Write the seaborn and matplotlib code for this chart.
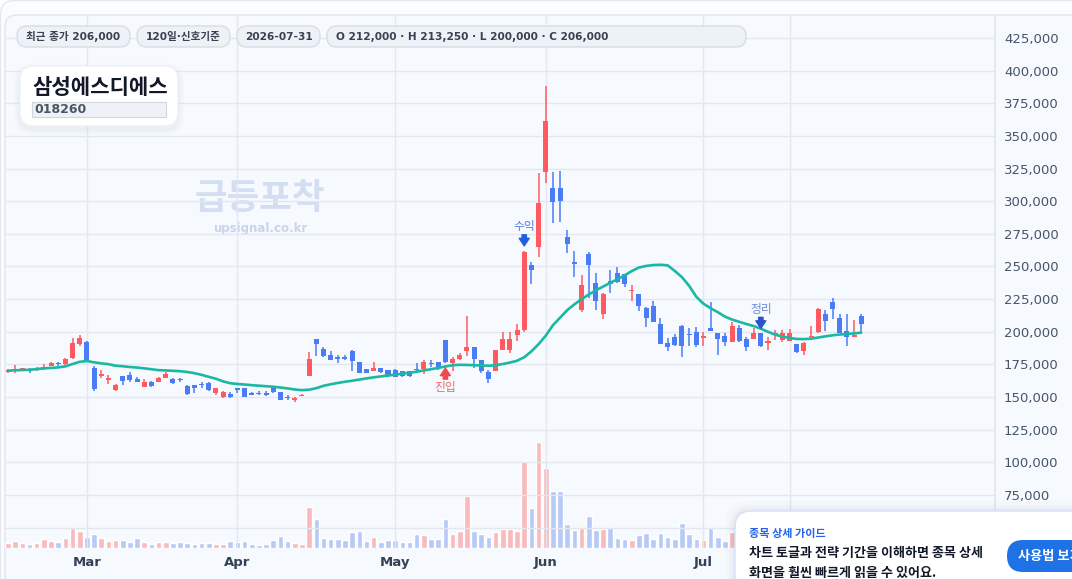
import matplotlib
matplotlib.use("Agg")
import matplotlib.pyplot as plt
import matplotlib.transforms as mtransforms
from matplotlib.patches import FancyBboxPatch, Rectangle
import numpy as np
import pandas as pd
import seaborn as sns

W, H = 1072, 579

# chart data (one value per trading day)
ticker_name = "삼성에스디에스"
ticker_code = "018260"
last_date = "2026-07-31"
window_label = "120일·신호기준"

opens = [
    169100, 170700, 171200, 171400, 171200, 171400, 174000, 175500, 175000, 179900,
    190600, 191800, 171900, 166300, 163000, 155600, 166100, 166800, 163800, 157900,
    161800, 161800, 164800, 163500, 163300, 158200, 159200, 159500, 160700, 153300,
    150300, 152300, 156600, 156600, 153100, 153300, 153300, 156600, 154100, 149800,
    147500, 151000, 166300, 194400, 186700, 182400, 180600, 180800, 184900, 177000,
    171600, 170300, 172100, 170900, 170900, 170100, 169800, 171400, 171400, 176000,
    176500, 193400, 175900, 179000, 184900, 188700, 178500, 169300, 169600, 185700,
    186200, 197700, 201500, 251000, 265100, 322600, 310300, 310000, 272800, 253400,
    216600, 259500, 237300, 213600, 238900, 245200, 244200, 231000, 228900, 218400,
    219700, 205900, 191100, 195700, 204400, 198300, 200000, 194900, 203100, 198800,
    196900, 192400, 202600, 194400, 194200, 198800, 191100, 197500, 193700, 193100,
    190600, 185500, 196200, 200000, 213600, 223000, 210300, 200800, 196200, 212000,
]
highs = [
    171400, 174500, 172500, 171900, 173000, 175500, 177000, 176800, 179900, 194900,
    197400, 192600, 173500, 170400, 166800, 160000, 166100, 169400, 165300, 163800,
    162500, 165100, 168900, 164800, 164800, 159200, 159200, 161800, 161200, 156600,
    154900, 153800, 157200, 157200, 154100, 154900, 154400, 158700, 154100, 151800,
    150300, 152000, 184700, 194400, 188700, 185400, 182400, 182400, 186200, 177000,
    171600, 177000, 172600, 170900, 171400, 170100, 170300, 175900, 178000, 178500,
    176500, 193900, 180600, 183600, 211800, 188700, 178500, 170900, 186200, 199500,
    199500, 206100, 262000, 253600, 321400, 388200, 322600, 323000, 277900, 261800,
    243500, 261300, 245000, 229500, 247300, 249400, 244200, 235800, 228900, 219200,
    223800, 210500, 195000, 198000, 205200, 202600, 203400, 200000, 223000, 198800,
    198800, 207700, 205200, 195700, 202600, 198800, 196200, 201300, 201300, 201900,
    190600, 192400, 204400, 218000, 216600, 225600, 213600, 213600, 209000, 213250,
]
lows = [
    168600, 168400, 170000, 168400, 169900, 170900, 173500, 173500, 174500, 179100,
    188800, 176500, 154900, 164300, 160000, 154900, 159200, 161200, 161200, 157400,
    157900, 161200, 164300, 160200, 161800, 151500, 152800, 157200, 154600, 151800,
    149500, 149500, 152800, 149800, 151500, 151300, 150500, 153100, 147900, 147500,
    146200, 150800, 166300, 181600, 180600, 178500, 176000, 178500, 169600, 168800,
    168800, 169800, 168600, 165700, 165200, 165700, 165700, 168800, 167800, 173400,
    170900, 176000, 169800, 178500, 181100, 172100, 168300, 161100, 169600, 185700,
    183600, 192600, 200000, 236600, 257500, 313700, 283500, 284000, 260000, 241700,
    215500, 225800, 216600, 210000, 229900, 237600, 234500, 223800, 216100, 203900,
    207700, 190600, 185500, 189000, 180900, 189000, 188000, 189000, 200800, 182200,
    189000, 192400, 192400, 185500, 194200, 188500, 186000, 193700, 192400, 193100,
    183500, 182200, 194900, 199300, 200800, 209500, 198800, 189000, 196200, 200000,
]
closes = [
    170400, 171400, 172200, 170200, 171900, 172700, 176300, 175000, 179100, 191300,
    194900, 177300, 156100, 167900, 164300, 159200, 162500, 163000, 161800, 161800,
    158400, 164300, 167900, 160700, 162800, 152300, 157200, 158900, 155600, 156600,
    154100, 150300, 155600, 150300, 151800, 152300, 151300, 153800, 147900, 149000,
    149500, 151500, 179100, 190600, 181800, 178500, 179500, 179500, 177800, 168800,
    168800, 172400, 169100, 166200, 165700, 166200, 166200, 170600, 176500, 175200,
    172100, 177200, 179000, 182400, 188200, 179000, 170300, 164200, 185700, 194400,
    194400, 201500, 261300, 247500, 298400, 361700, 299600, 300000, 267200, 251700,
    235800, 251100, 223800, 228900, 236300, 238100, 236600, 231700, 219700, 210700,
    207700, 190600, 188500, 189800, 189000, 197700, 189800, 196700, 200800, 194400,
    192400, 204400, 193100, 188000, 198800, 189000, 192900, 198800, 198800, 199300,
    184700, 191600, 197000, 217200, 208400, 217200, 199300, 196200, 197500, 206000,
]
# volume in thousand shares
volumes = [
    106, 146, 106, 86, 106, 186, 146, 126, 206, 406,
    346, 226, 286, 206, 146, 166, 166, 126, 206, 126,
    86, 126, 126, 106, 126, 106, 86, 106, 106, 86,
    86, 146, 126, 146, 86, 66, 86, 166, 246, 146,
    106, 86, 826, 586, 206, 186, 186, 166, 326, 346,
    146, 226, 126, 166, 166, 126, 126, 286, 266, 186,
    186, 586, 286, 346, 1046, 346, 286, 226, 326, 386,
    386, 346, 1746, 800, 2114, 1594, 1134, 1134, 474, 354,
    394, 634, 354, 374, 394, 194, 174, 154, 254, 294,
    174, 294, 214, 174, 494, 274, 174, 154, 394, 214,
    134, 314, 240, 200, 180, 280, 160, 140, 180, 160,
    220, 180, 140, 440, 280, 320, 240, 200, 160, 220,
]
# moving average line as drawn
ma_line = [
    170200, 170500, 170700, 170900, 171400, 172000, 172300, 172700, 173500, 175300,
    177000, 177600, 176600, 175800, 175200, 174000, 173600, 173000, 172600, 172000,
    171300, 170600, 170400, 170100, 169800, 169200, 168300, 167000, 165500, 164000,
    162000, 160600, 160000, 159600, 159100, 158700, 158300, 157900, 157300, 156600,
    155800, 155300, 155600, 156800, 158600, 159800, 160800, 161700, 162500, 163400,
    164300, 165100, 165800, 166500, 167200, 167900, 168600, 169400, 170400, 171300,
    172300, 173400, 174400, 174700, 174600, 174400, 174200, 174000, 174300, 175300,
    176400, 177800, 180500, 185000, 190500, 197000, 205000, 210800, 216600, 221000,
    225000, 228500, 231800, 234600, 237500, 240200, 243200, 246500, 249200, 250400,
    251100, 251300, 250900, 246600, 241800, 235200, 226800, 221500, 218000, 215000,
    211600, 209300, 207600, 205900, 204400, 202300, 200000, 197800, 196300, 195300,
    194500, 194400, 194700, 195600, 196500, 197300, 197900, 198300, 198800, 199300,
]

month_pos = [11, 32, 54, 75, 97, 109]
month_names = ["Mar", "Apr", "May", "Jun", "Jul", ""]
price_ticks = list(range(50000, 425001, 25000))
signals = [(61, "진입", "below"), (72, "수익", "above"), (105, "정리", "above")]

UP = "#ff5a5f"
DOWN = "#4a7cf6"
UP_VOL = "#f9babd"
DOWN_VOL = "#b7c9f7"
MA_COLOR = "#1ab8a2"

df = pd.DataFrame({"open": opens, "high": highs, "low": lows, "close": closes,
                   "volume": volumes, "ma": ma_line})
df["idx"] = np.arange(len(df))
df["dir"] = np.where(df["close"] >= df["open"], "up", "down")

sns.set_theme(style="white")
plt.rcParams["font.family"] = ["DejaVu Sans", "Noto Sans CJK KR"]
KR = ["Noto Sans CJK KR", "DejaVu Sans"]

fig = plt.figure(figsize=(W / 100, H / 100), dpi=100)
fig.patch.set_facecolor("white")


def px_patch(x0, y0, x1, y1, r, z, **kw):
    p = FancyBboxPatch((x0, H - y1), x1 - x0, y1 - y0,
                       boxstyle=f"round,pad=0,rounding_size={r}",
                       transform=mtransforms.IdentityTransform(), zorder=z, **kw)
    fig.add_artist(p)
    return p


def px_text(x, y, s, **kw):
    return fig.text(x / W, 1 - y / H, s, **kw)


# page + chart frame
px_patch(0.5, 0.5, 1100, 620, 14, -3, facecolor="#fbfcfe", edgecolor="#e4e8ef", lw=1)
px_patch(5, 15, 1100, 620, 12, -2, facecolor="#f6f9fe", edgecolor="#e1e6ee", lw=1)

ax = fig.add_axes([5 / W, 31 / H, 990 / W, 533 / H])
axv = ax.twinx()
ax.set_zorder(2)
axv.set_zorder(1)
ax.patch.set_alpha(0)
axv.patch.set_alpha(0)

# volume
sns.barplot(data=df, x="idx", y="volume", hue="dir", palette={"up": UP_VOL, "down": DOWN_VOL},
            native_scale=True, dodge=False, errorbar=None, saturation=1, width=0.78,
            legend=False, ax=axv)
axv.set_ylim(0, 533 * 20)
axv.set_yticks([])
axv.set(xlabel="", ylabel="")

# candles
colors = np.where(df["dir"] == "up", UP, DOWN)
ax.vlines(df["idx"], df["low"], df["high"], colors=colors, lw=1.1, zorder=3)
body_lo = np.minimum(df["open"], df["close"])
body_h = np.maximum((df["close"] - df["open"]).abs(), 900)
ax.bar(df["idx"], body_h, bottom=body_lo, width=0.7, color=colors, lw=0, zorder=4)

# moving average
sns.lineplot(data=df, x="idx", y="ma", color=MA_COLOR, lw=1.9, ax=ax, zorder=5)
ax.set(xlabel="", ylabel="")

ax.set_xlim(-0.42, 137.66)
ax.set_ylim(34391, 442616)
ax.set_xticks(month_pos)
ax.set_xticklabels(month_names, fontweight="bold", fontsize=9.5, color="#334155")
ax.set_yticks(price_ticks)
ax.set_yticklabels([f"{v:,}" for v in price_ticks], fontsize=9.5, color="#475569")
ax.yaxis.tick_right()
ax.tick_params(axis="x", length=0, pad=5.5)
ax.tick_params(axis="y", length=0, pad=6.5)
ax.grid(True, color="#e3e8ef", lw=1)
ax.set_axisbelow(True)
for a in (ax, axv):
    for s in a.spines.values():
        s.set_visible(False)
ax.spines["right"].set_visible(True)
ax.spines["right"].set_color("#e1e6ee")


def off(dy):
    return mtransforms.offset_copy(ax.transData, fig=fig, x=0, y=dy, units="dots")


# signal markers
for i, label, side in signals:
    if side == "below":
        base, sgn = lows[i], -1
        tcol, acol = "#f06b6b", "#ec4b4f"
    else:
        base, sgn = highs[i], 1
        tcol, acol = ("#4f7fe6", "#1f5ee0") if label == "수익" else ("#6a8ad6", "#2a55c8")
    ax.annotate("", xy=(i, base), xycoords=off(sgn * 5), xytext=(i, base), textcoords=off(sgn * 16),
                arrowprops=dict(arrowstyle="simple,head_length=0.45,head_width=0.6,tail_width=0.26",
                                color=acol, shrinkA=0, shrinkB=0, mutation_scale=12), zorder=6)
    ax.annotate(label, xy=(i, base), xycoords=off(sgn * 24), ha="center", va="center",
                fontsize=8.5, color=tcol, family=KR, zorder=6)

# watermark
px_text(260, 198, "급등포착", fontsize=25.5, fontweight="bold", color="#d3def3",
        ha="center", va="center", family=KR, zorder=1)
px_text(260, 228, "upsignal.co.kr", fontsize=8.5, fontweight="bold", color="#c9d5ea",
        ha="center", va="center", zorder=1)

# header pills
last = df.iloc[-1]
pills = [
    (17, 130, f"최근 종가 {int(last['close']):,}", "center"),
    (137, 230, window_label, "center"),
    (237, 320, last_date, "center"),
    (327, 746, f"O {int(last['open']):,} · H {int(last['high']):,} · "
               f"L {int(last['low']):,} · C {int(last['close']):,}", "left"),
]
for x0, x1, s, al in pills:
    px_patch(x0, 26, x1, 47, 10, 8, facecolor="#eef2f7", edgecolor="#d7dde7", lw=1)
    tx = (x0 + x1) / 2 if al == "center" else x0 + 9
    px_text(tx, 37, s, fontsize=7.6, fontweight="bold", color="#374151", ha=al, va="center", zorder=9)

# title card
for k, a in ((6, 0.025), (4, 0.035), (2, 0.05)):
    px_patch(20 - k, 66 - k + 3, 178 + k, 126 + k + 3, 14 + k, 8, facecolor="#94a3b8",
             edgecolor="none", alpha=a)
px_patch(20, 66, 178, 126, 14, 8, facecolor="white", edgecolor="#eef1f5", lw=1)
px_text(32, 87, ticker_name, fontsize=15.2, fontweight="bold", color="#111827",
        ha="left", va="center", family=KR, zorder=9)
fig.add_artist(Rectangle((32, H - 117), 134, 15, transform=mtransforms.IdentityTransform(),
                         facecolor="#eef1f6", edgecolor="#cfd6e0", lw=0.8, zorder=9))
px_text(34, 109.5, ticker_code, fontsize=9, fontweight="bold", color="#4b5563",
        ha="left", va="center", zorder=10)

# guide card
for k, a in ((10, 0.02), (6, 0.03), (3, 0.045)):
    px_patch(735 - k, 511 - k, 1100, 640, 16 + k, 10, facecolor="#64748b", edgecolor="none", alpha=a)
px_patch(735, 511, 1100, 640, 16, 10, facecolor="white", edgecolor="#d3e0f5", lw=1)
px_text(749, 534, "종목 상세 가이드", fontsize=8, fontweight="bold", color="#2563eb",
        ha="left", va="center", family=KR, zorder=11)
px_text(749, 553, "차트 토글과 전략 기간을 이해하면 종목 상세", fontsize=9.4, fontweight="bold",
        color="#111827", ha="left", va="center", family=KR, zorder=11)
px_text(749, 573, "화면을 훨씬 빠르게 읽을 수 있어요.", fontsize=9.4, fontweight="bold",
        color="#111827", ha="left", va="center", family=KR, zorder=11)
px_patch(1007, 540, 1110, 572, 16, 11, facecolor="#1f72e6", edgecolor="none")
px_text(1018, 556, "사용법 보기", fontsize=9.5, fontweight="bold", color="white",
        ha="left", va="center", family=KR, zorder=12)

fig.savefig("out.png", dpi=100)
